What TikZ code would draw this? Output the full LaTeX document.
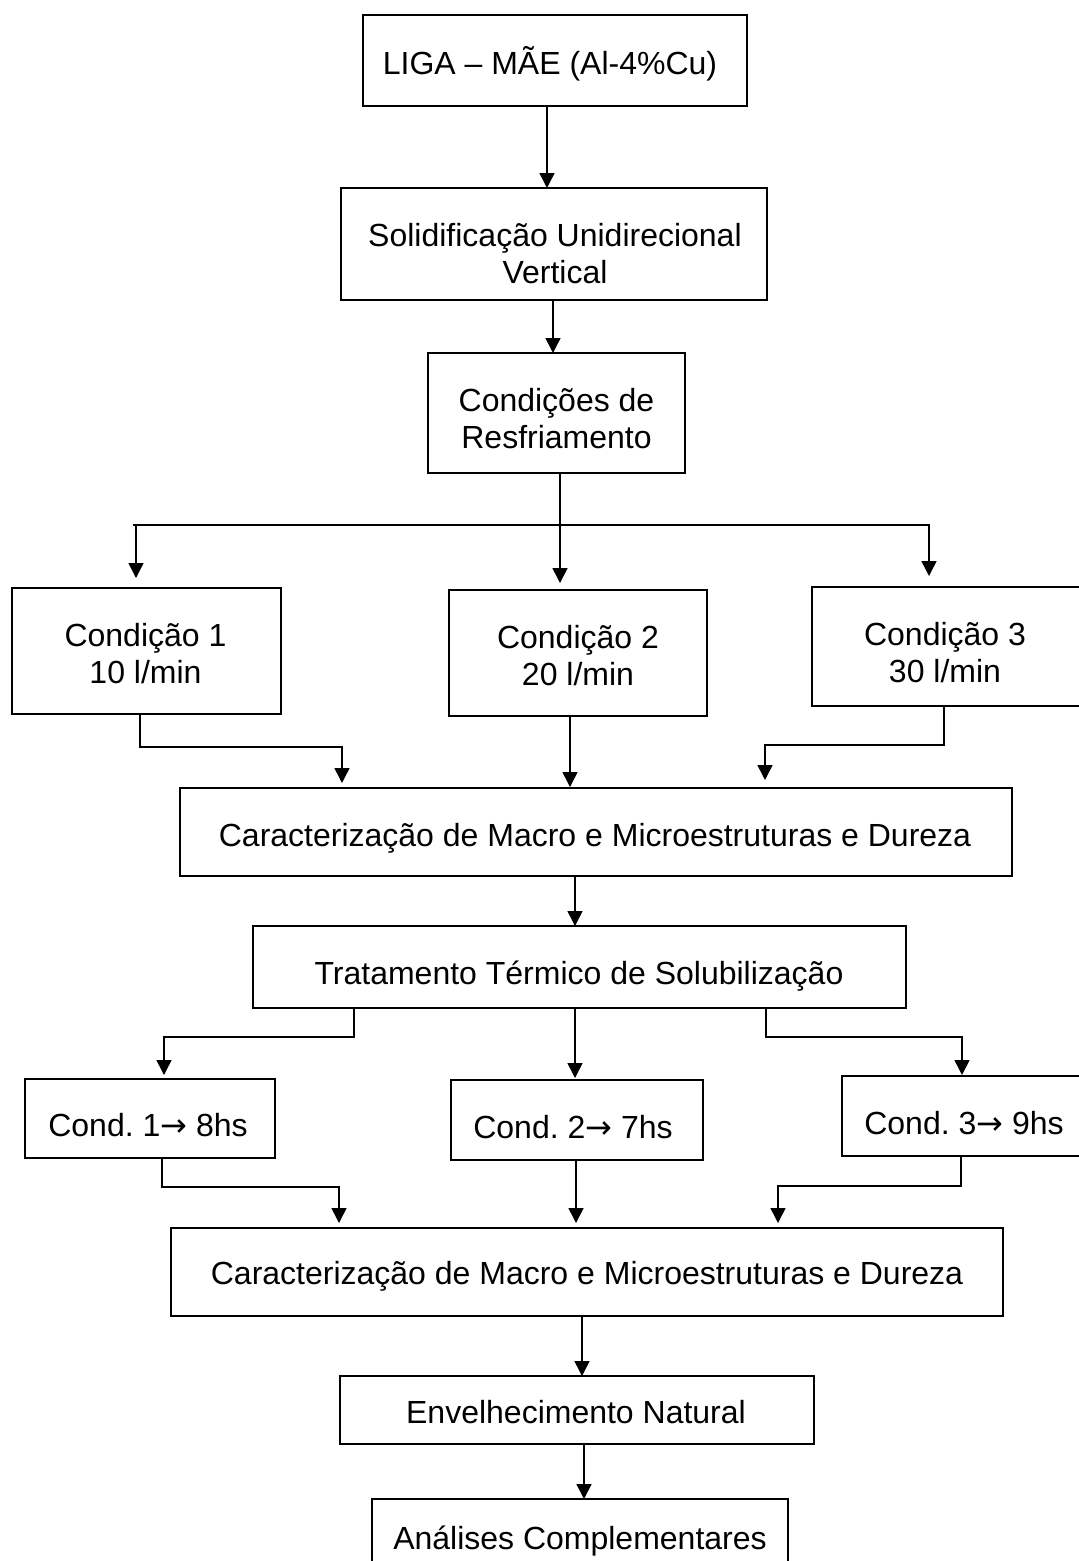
\documentclass[tikz,border=0pt]{standalone}
\usepackage{fontspec}
\setmainfont{Liberation Sans}
\newfontfamily\arrowfont{DejaVu Sans}
\usetikzlibrary{arrows.meta}
\begin{document}
\frenchspacing
\begin{tikzpicture}[x=1pt,y=-1pt,
  box/.style={draw, line width=1.7pt, inner sep=0pt, outer sep=0pt},
  txt/.style={inner sep=0pt, align=center, font=\fontsize{32}{37}\selectfont},
  conn/.style={line width=1.5pt},
  arr/.style={conn, -{Triangle[length=15pt,width=15pt]}}]
\useasboundingbox (0,0) rectangle (1079,1561);
\clip (0,0) rectangle (1079,1561);
\fill[white] (0,0) rectangle (1079,1561);

% boxes
\node[box, minimum width=384pt, minimum height=91pt]  (liga)  at (555,60.5) {};
\node[box, minimum width=426pt, minimum height=112pt] (solid) at (554,244) {};
\node[box, minimum width=257pt, minimum height=120pt] (cond)  at (556.5,413) {};
\node[box, minimum width=269pt, minimum height=126pt] (c1)    at (146.5,651) {};
\node[box, minimum width=258pt, minimum height=126pt] (c2)    at (578,653) {};
\node[box, minimum width=278pt, minimum height=119pt] (c3)    at (951,646.5) {};
\node[box, minimum width=832pt, minimum height=88pt]  (carA)  at (596,832) {};
\node[box, minimum width=653pt, minimum height=82pt]  (trat)  at (579.5,967) {};
\node[box, minimum width=250pt, minimum height=79pt]  (d1)    at (150,1118.5) {};
\node[box, minimum width=252pt, minimum height=80pt]  (d2)    at (577,1120) {};
\node[box, minimum width=248pt, minimum height=80pt]  (d3)    at (966,1116) {};
\node[box, minimum width=832pt, minimum height=88pt]  (carB)  at (587,1272) {};
\node[box, minimum width=474pt, minimum height=68pt]  (env)   at (577,1410) {};
\node[box, minimum width=416pt, minimum height=81pt]  (anal)  at (580,1539.5) {};

% texts
\node[txt, anchor=base] (ligaT) at (550,74.8) {LIGA – MÃE (Al-4\%Cu)};
\node[txt] (solidT) at (555,253.5) {Solidificação Unidirecional\\Vertical};
\node[txt] (condT) at (556.5,418.5) {Condições de\\Resfriamento};
\node[txt] (c1T) at (145.5,653.5) {Condição 1\\10 l/min};
\node[txt] (c2T) at (578,655.5) {Condição 2\\20 l/min};
\node[txt] (c3T) at (945,652.5) {Condição 3\\30 l/min};
\node[txt, anchor=base] (carAT) at (595,846.5) {Caracterização de Macro e Microestruturas e Dureza};
\node[txt, anchor=base] (tratT) at (579,984.5) {Tratamento Térmico de Solubilização};
\node[txt, anchor=base] (d1T) at (148,1136.5) {Cond. 1{\arrowfont →} 8hs};
\node[txt, anchor=base] (d2T) at (573,1138.5) {Cond. 2{\arrowfont →} 7hs};
\node[txt, anchor=base] (d3T) at (964,1134.5) {Cond. 3{\arrowfont →} 9hs};
\node[txt, anchor=base] (carBT) at (587,1284.5) {Caracterização de Macro e Microestruturas e Dureza};
\node[txt, anchor=base] (envT) at (576,1423.5) {Envelhecimento Natural};
\node[txt, anchor=base] (analT) at (580,1549) {Análises Complementares};

% connector coordinates
\coordinate (x1) at (547,0);
\coordinate (x2) at (553,0);
\coordinate (h1l) at (133,525);
\coordinate (t1) at (136,578);
\coordinate (t2) at (560,583);
\coordinate (t3) at (929,576);
\coordinate (a1) at (140,747);   \coordinate (a1t) at (342,783);
\coordinate (a2t) at (570,787);
\coordinate (a3) at (944,745);   \coordinate (a3t) at (765,780);
\coordinate (b0) at (575,0);
\coordinate (b1) at (354,1037);  \coordinate (b1t) at (164,1075);
\coordinate (b2t) at (575,1078);
\coordinate (b3) at (766,1037);  \coordinate (b3t) at (962,1075);
\coordinate (e1) at (162,1187);  \coordinate (e1t) at (339,1223);
\coordinate (e2t) at (576,1223);
\coordinate (e3) at (961,1186);  \coordinate (e3t) at (778,1223);
\coordinate (f0) at (582,0);
\coordinate (g0) at (584,0);

% connectors
\draw[arr] (liga.south -| x1) -- (solid.north -| x1);
\draw[arr] (solid.south -| x2) -- (cond.north -| x2);
\draw[arr] (h1l) -| (t3);
\draw[arr] (t1 |- h1l) -- (t1);
\draw[arr] (cond.south -| t2) -- (t2);
\draw[arr] (c1.south -| a1) -- (a1) -| (a1t);
\draw[arr] (c2.south -| a2t) -- (a2t);
\draw[arr] (c3.south -| a3) -- (a3) -| (a3t);
\draw[arr] (carA.south -| b0) -- (trat.north -| b0);
\draw[arr] (trat.south -| b1) -- (b1) -| (b1t);
\draw[arr] (trat.south -| b2t) -- (b2t);
\draw[arr] (trat.south -| b3) -- (b3) -| (b3t);
\draw[arr] (d1.south -| e1) -- (e1) -| (e1t);
\draw[arr] (d2.south -| e2t) -- (e2t);
\draw[arr] (d3.south -| e3) -- (e3) -| (e3t);
\draw[arr] (carB.south -| f0) -- (env.north -| f0);
\draw[arr] (env.south -| g0) -- (anal.north -| g0);
\end{tikzpicture}
\end{document}
